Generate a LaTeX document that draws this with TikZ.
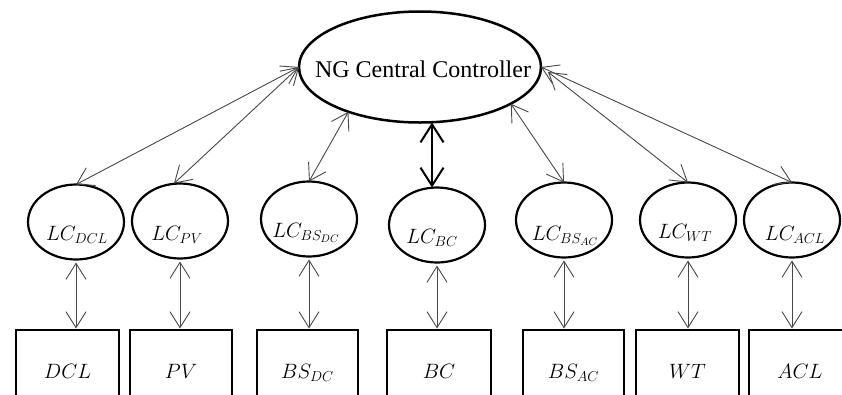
\documentclass[tikz,border=0pt]{standalone}
\usepackage{fontspec}
\setmainfont{Liberation Serif}
\usetikzlibrary{shapes.geometric,arrows.meta}
\begin{document}
\begin{tikzpicture}[x=1pt,y=-1pt,
  bigell/.style={ellipse, draw, line width=2.5pt, minimum width=242pt, minimum height=111pt, inner sep=0pt, outer sep=0pt},
  lcell/.style={ellipse, draw, line width=2.2pt, minimum width=96pt, minimum height=75pt, inner sep=0pt, outer sep=0pt},
  devbox/.style={rectangle, draw, line width=2.2pt, minimum height=66pt, inner sep=0pt, outer sep=0pt, anchor=north west},
  lab/.style={anchor=base, inner sep=0pt, font=\fontsize{21}{25}\selectfont},
  barb/.style={Straight Barb[length=16pt,width=20pt]},
  link/.style={draw=black!72, line width=0.9pt, {Straight Barb[length=16pt,width=20pt]}-{Straight Barb[length=16pt,width=20pt]}},
  mainlink/.style={draw=black, line width=2pt, {Straight Barb[length=18pt,width=23pt]}-{Straight Barb[length=18pt,width=23pt]}},
]
\useasboundingbox (0,0) rectangle (842,394);
\clip (0,0) rectangle (842,394);

% central controller
\node[bigell] (ng) at (420,67) {};
\node[anchor=base, inner sep=0pt, font=\fontsize{24}{28}\selectfont] (ngt) at (423,77) {NG Central Controller};

% local controllers
\node[lcell] (dcl)  at (76,222)  {};
\node[lcell] (pv)   at (180,221) {};
\node[lcell] (bsdc) at (309,219) {};
\node[lcell] (bc)   at (437,225) {};
\node[lcell] (bsac) at (564,220) {};
\node[lcell] (wt)   at (688,220) {};
\node[lcell] (acl)  at (792,220) {};

\node[lab] (tdcl) at (77,240)  {$LC_{DCL}$};
\node[lab] (tpv)  at (177,240) {$LC_{PV}$};
\begin{scope}
  \clip (255,170) rectangle (365,245);
  \node[lab] (tbsdc) at (306,237) {$LC_{BS_{DC}}$};
\end{scope}
\node[lab] (tbc)  at (432,243) {$LC_{BC}$};
\begin{scope}
  \clip (512,170) rectangle (620,245);
  \node[lab] (tbsac) at (565,240) {$LC_{BS_{AC}}$};
\end{scope}
\node[lab] (twt)  at (685,238) {$LC_{WT}$};
\node[lab] (tacl) at (795,240) {$LC_{ACL}$};

% devices
\node[devbox, minimum width=103pt] (bdcl)  at (16,330)  {};
\node[devbox, minimum width=102pt] (bpv)   at (130,330) {};
\node[devbox, minimum width=101pt] (bbsdc) at (257,330) {};
\node[devbox, minimum width=104pt] (bbc)   at (387,330) {};
\node[devbox, minimum width=101pt] (bbsac) at (523,330) {};
\node[devbox, minimum width=103pt] (bwt)   at (636,330) {};
\node[devbox, minimum width=102pt] (bacl)  at (749,330) {};

\node[lab] (sdcl)  at (bdcl.center |- 0,378)  {$DCL$};
\node[lab] (spv)   at (bpv.center |- 0,378)   {$PV$};
\node[lab] (sbsdc) at (bbsdc.center |- 0,378) {$BS_{DC}$};
\node[lab] (sbc)   at (bbc.center |- 0,378)   {$BC$};
\node[lab] (sbsac) at (bbsac.center |- 0,378) {$BS_{AC}$};
\node[lab] (swt)   at (bwt.center |- 0,378)   {$WT$};
\node[lab] (sacl)  at (bacl.center |- 0,378)  {$ACL$};

% controller links
\draw[link] (ng.west) -- (dcl.north);
\draw[link] (ng.west) -- ([xshift=-6pt]pv.north);
\draw[link] (ng.212) -- (bsdc.north);
\draw[mainlink] ([xshift=-5pt]bc.north |- ng.south) -- ([xshift=-5pt]bc.north);
\draw[link] (ng.338) -- (bsac.north);
\draw[link] ([shift={(7pt,-5pt)}]ng.east) -- (wt.north);
\draw[link] (ng.east) -- (acl.north);

% local links
\foreach \a/\b in {dcl/bdcl, pv/bpv, bsdc/bbsdc, bc/bbc, bsac/bbsac, wt/bwt, acl/bacl}
  \draw[link, shorten <=3pt, shorten >=1.5pt] (\a.south) -- (\a.south |- \b.north);
\end{tikzpicture}
\end{document}
